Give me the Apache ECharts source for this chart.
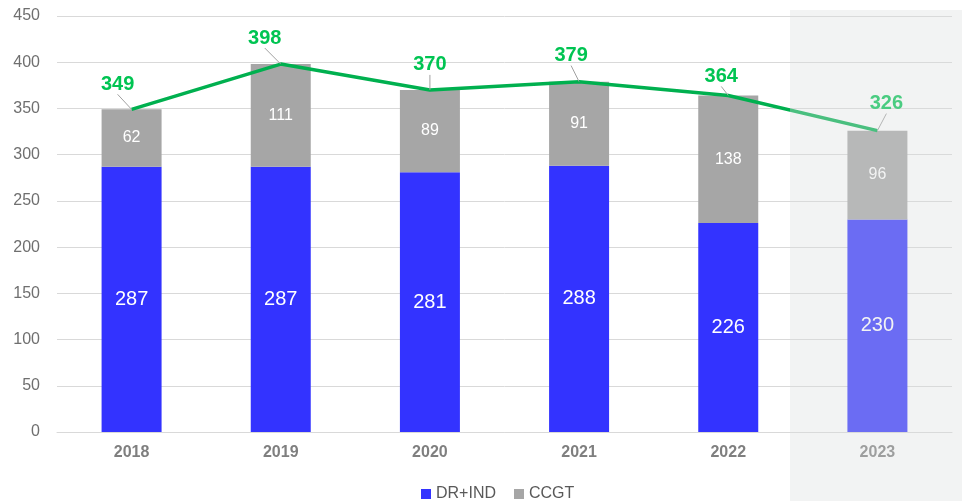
<!DOCTYPE html>
<html>
<head>
<meta charset="utf-8">
<script src="https://cdn.jsdelivr.net/npm/echarts@6/dist/echarts.min.js"></script>
<style>
  html, body { margin: 0; padding: 0; background: #fff; }
  #main { width: 962px; height: 501px; }
</style>
</head>
<body>
<div id="main"></div>
<script>
// data
var years = ['2018', '2019', '2020', '2021', '2022', '2023']
var drInd = [287, 287, 281, 288, 226, 230]
var ccgt = [62, 111, 89, 91, 138, 96]
var totals = [349, 398, 370, 379, 364, 326]

// label nudges for the total line (dx, dy)
var totalLabelShift = [[-14, -10], [-16, -11], [0, -10], [-8, -11], [-7, -4], [9, -12]]

var font = 'Liberation Sans, Arial, sans-serif'
var chart = echarts.init(document.getElementById('main'))

var option = {
  animation: false,
  textStyle: { fontFamily: font },
  grid: { left: 57, right: 10, top: 16, bottom: 69 },
  legend: {
    top: 481,
    left: 416,
    icon: 'rect',
    itemWidth: 10,
    itemHeight: 10,
    itemGap: 18,
    textStyle: { fontSize: 16, color: '#595959', fontFamily: font },
    data: ['DR+IND', 'CCGT']
  },
  xAxis: {
    type: 'category',
    data: years,
    axisTick: { show: false },
    axisLine: { lineStyle: { color: '#d9d9d9', width: 1 } },
    axisLabel: { color: '#7f7f7f', fontSize: 16, fontWeight: 'bold', margin: 13 }
  },
  yAxis: {
    type: 'value',
    min: 0,
    max: 450,
    interval: 50,
    axisLabel: { color: '#6f6f6f', fontSize: 16, margin: 17 },
    splitLine: { lineStyle: { color: '#d9d9d9', width: 1 } }
  },
  series: [
    {
      name: 'DR+IND',
      type: 'bar',
      stack: 'cap',
      barWidth: 60,
      itemStyle: { color: '#3333ff' },
      label: { show: true, position: 'inside', color: '#fff', fontSize: 20 },
      data: drInd
    },
    {
      name: 'CCGT',
      type: 'bar',
      stack: 'cap',
      barWidth: 60,
      itemStyle: { color: '#a6a6a6' },
      label: { show: true, position: 'inside', color: '#fff', fontSize: 16 },
      data: ccgt
    },
    {
      name: 'Total',
      type: 'line',
      symbol: 'circle',
      symbolSize: 0.1,
      showSymbol: true,
      lineStyle: { color: '#00b04f', width: 3.5 },
      itemStyle: { color: '#00b04f' },
      z: 5,
      label: {
        show: true,
        position: 'top',
        distance: 5,
        color: '#00c452',
        fontSize: 20,
        fontWeight: 'bold'
      },
      labelLine: { show: true, lineStyle: { color: '#a0a0a0', width: 1 } },
      labelLayout: function (params) {
        var s = totalLabelShift[params.dataIndex]
        return { dx: s[0], dy: s[1] }
      },
      data: totals
    }
  ],
  graphic: [
    {
      type: 'rect',
      z: 100,
      left: 790,
      top: 10,
      shape: { width: 172, height: 491 },
      style: { fill: 'rgba(217,220,219,0.34)' },
      silent: true
    }
  ]
}

chart.setOption(option)
</script>
</body>
</html>
